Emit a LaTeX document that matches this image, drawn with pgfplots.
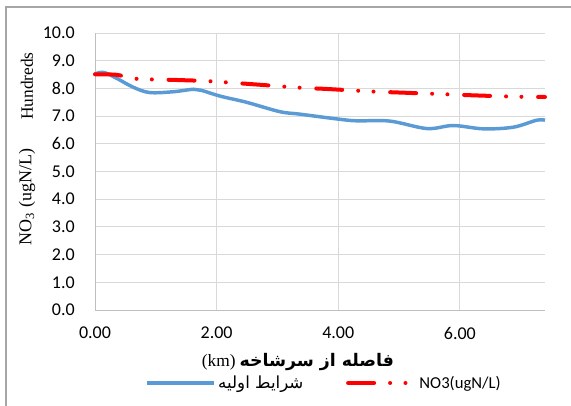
\documentclass[border=0pt]{standalone}
\usepackage{fontspec}
\setmainfont{Carlito}
\newfontfamily\timesfont{Liberation Serif}
\newfontfamily\arabicfont[Script=Arabic]{DejaVu Sans}
\TeXXeTstate=1
\usepackage{pgfplots}
\pgfplotsset{compat=1.18}
\definecolor{exblue}{RGB}{91,155,213}
\definecolor{gridgray}{RGB}{217,217,217}
\definecolor{axgray}{RGB}{191,191,191}
\definecolor{framegray}{RGB}{166,166,166}
\begin{document}
\begin{tikzpicture}
\useasboundingbox (0,0) rectangle (428.25pt,303.75pt);
% chart area frame (top and left edges visible)
\draw[framegray, line width=0.9pt] (4.5pt,-5pt) -- (4.5pt,298.5pt) -- (440pt,298.5pt);
\begin{axis}[
  at={(71.25pt,71.25pt)}, anchor=south west,
  scale only axis, width=337.5pt, height=207.75pt,
  xmin=0, xmax=7.4, ymin=0, ymax=10,
  xtick={0,2,4,6}, ytick={0,1,...,10},
  axis lines=left, axis line style={axgray, line width=0.75pt, -},
  major tick length=0pt,
  grid=major, major grid style={gridgray, line width=0.75pt},
  /pgf/number format/assume math mode=true,
  xticklabel={\pgfmathprintnumber[fixed,fixed zerofill,precision=2]{\tick}},
  yticklabel={\pgfmathprintnumber[fixed,fixed zerofill,precision=1]{\tick}},
  ticklabel style={font=\fontsize{13.5}{16}\selectfont, text=black},
  yticklabel style={inner sep=0pt, xshift=-15pt},
  xticklabel style={inner sep=0pt, yshift=-12.5pt},
  legend columns=2,
  legend style={at={(axis description cs:0.1025,-0.2635)}, anchor=west,
    draw=none, fill=none, font=\fontsize{12.5}{15}\selectfont,
    /tikz/every even column/.append style={column sep=30pt}},
  legend image code/.code={\draw[#1] (0pt,0pt) -- (50pt,0pt);},
  clip=false,
]
\addplot[exblue, line width=2.6pt, smooth, tension=0.55] coordinates {
(0.00,8.52) (0.14,8.58) (0.36,8.36) (0.63,8.04) (0.90,7.85) (1.29,7.88)
(1.62,7.97) (1.75,7.93) (2.06,7.72) (2.49,7.50) (3.04,7.16) (3.37,7.07)
(3.97,6.90) (4.30,6.83) (4.85,6.82) (5.46,6.55) (5.89,6.66) (6.39,6.54)
(6.88,6.60) (7.26,6.85) (7.40,6.85)
};
\addlegendentry{\arabicfont\beginR شرایط اولیه\endR}
\addplot[red, line width=3pt, line cap=round, smooth, tension=0.5,
  dash pattern=on 19.5pt off 12pt on 0pt off 11.5pt on 0pt off 12.5pt] coordinates {
(0.00,8.51) (0.36,8.49) (0.66,8.35) (1.40,8.30) (1.88,8.26) (2.60,8.15)
(3.33,8.03) (3.81,7.98) (4.54,7.89) (5.02,7.85) (5.75,7.79) (6.22,7.75)
(6.95,7.70) (7.40,7.69)
};
\addlegendentry{NO3(ugN/L)}
\end{axis}
\node[rotate=90, font=\timesfont\fontsize{13}{15}\selectfont] at (20.25pt,239.25pt) {Hundreds};
\node[rotate=90, font=\timesfont\fontsize{13.5}{16}\selectfont] at (20.25pt,156pt) {NO\textsubscript{3} (ugN/L)};
\node[font=\fontsize{13}{15}\selectfont] at (223.5pt,32.25pt) {{\timesfont (km)} {\arabicfont\bfseries\beginR فاصله از سرشاخه\endR}};
\end{tikzpicture}
\end{document}
